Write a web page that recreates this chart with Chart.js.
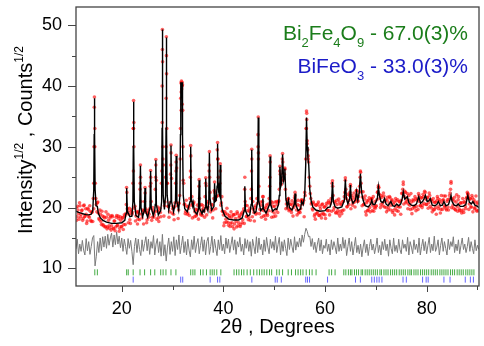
<!DOCTYPE html>
<html>
<head>
<meta charset="utf-8">
<script src="https://cdn.jsdelivr.net/npm/chart.js@4.4.1/dist/chart.umd.min.js"></script>
<style>
  html, body { margin: 0; padding: 0; background: #fff; }
  #wrap { width: 484px; height: 346px; }
</style>
</head>
<body>
<div id="wrap"><canvas id="xrd" width="484" height="346"></canvas></div>
<script>
/* ── Data ────────────────────────────────────────────────── */

// observed sqrt(counts), sampled every 0.2 deg starting at 11 deg
const obsStart = 11, obsStep = 0.2;
const obsGrid = [
  20.0,18.5,19.6,18.1,20.3, 18.9,19.6,18.2,20.4,18.6,
  18.9,17.8,19.7,18.4,19.4, 17.7,19.3,21.5,36.5,24.0,
  20.5,20.8,19.1,18.0,18.9, 17.2,18.6,17.0,18.3,16.9,
  18.4,16.8,17.9,16.6,18.6, 17.0,18.5,16.5,17.8,16.8,
  18.7,17.1,18.2,16.6,17.9, 16.9,18.3,17.2,18.6,19.0,
  22.5,19.4,18.9,18.0,19.3, 18.9,24.0,30.0,20.2,18.6,
  19.2,18.1,19.0,23.0,21.0, 18.3,19.4,19.5,22.4,19.2,
  18.0,19.1,18.9,23.5,21.0, 18.4,19.5,18.8,23.0,24.5,
  19.4,18.3,19.6,19.2,24.0, 46.0,27.0,20.3,25.0,45.0,
  24.0,20.2,19.3,25.5,24.8, 19.8,18.9,20.1,24.0,26.5,
  20.3,19.6,22.0,38.0,39.5, 36.0,24.0,20.6,19.4,20.2,
  19.1,19.9,21.5,28.5,21.8, 20.5,20.9,19.3,18.6,19.7,
  19.5,23.5,20.4,18.8,19.6, 20.3,19.4,21.8,23.6,19.8,
  20.1,27.0,22.5,19.7,20.4, 19.6,22.8,21.2,21.8,29.5,
  25.0,23.0,26.0,20.8,19.4, 18.8,17.5,19.0,17.6,18.9,
  17.1,18.7,17.4,18.4,16.9, 18.8,17.3,18.2,16.8,19.0,
  17.5,18.6,17.2,19.1,18.0, 19.8,23.0,20.4,18.6,19.5,
  18.4,19.9,21.5,28.0,21.0, 19.2,20.0,18.9,21.5,32.0,
  23.5,19.7,20.4,19.6,21.8, 19.5,18.7,20.0,19.0,20.6,
  21.5,27.5,21.0,19.4,20.2, 19.1,20.9,19.6,20.5,20.9,
  23.0,25.5,23.8,28.0,25.0, 25.5,23.0,20.6,20.0,21.5,
  19.7,20.6,19.2,20.4,20.0, 21.6,21.0,19.6,20.5,19.1,
  20.3,19.8,21.3,20.6,21.2, 22.5,28.0,35.5,29.5,27.5,
  23.5,21.5,20.8,19.6,20.6, 18.9,20.4,19.0,20.6,18.7,
  20.2,18.9,20.5,19.1,20.1, 18.8,20.3,19.6,20.8,19.5,
  20.6,21.5,24.0,22.0,20.0, 20.8,19.2,20.5,19.0,20.9,
  19.4,20.6,19.5,21.0,21.8, 24.5,21.5,20.2,21.1,22.0,
  23.5,21.3,20.4,21.6,20.9, 21.3,22.8,21.0,21.8,23.5,
  25.8,22.6,21.7,20.5,21.4, 19.3,20.8,19.5,21.2,20.0,
  20.8,21.5,20.4,19.4,21.0, 20.2,21.3,22.6,23.3,21.5,
  20.5,21.7,20.3,21.9,21.0, 20.0,21.2,19.6,20.8,21.6,
  20.4,21.3,19.5,20.9,19.8, 21.1,20.2,19.4,21.0,20.1,
  21.2,22.4,23.8,21.8,22.5, 21.0,22.3,20.6,21.2,19.7,
  20.9,19.8,21.1,20.0,21.4, 20.2,21.5,22.3,21.0,20.3,
  21.6,20.4,21.8,22.7,21.4, 20.5,21.6,20.8,22.0,21.2,
  19.9,21.0,19.6,20.8,20.0, 21.1,21.5,20.2,21.3,19.7,
  20.8,21.2,21.9,20.3,19.8, 21.0,20.1,21.4,22.4,24.0,
  21.5,20.4,21.1,19.7,20.9, 20.2,21.3,19.8,20.7,19.5,
  20.8,19.6,21.0,20.2,21.5, 22.5,21.8,20.6,21.4,20.1,
  21.6,20.9,19.8,20.9,19.6, 20.6,19.5
];

// second observed set, between the first: 11.1, 11.3, ... 90.1 deg
const obsStart2 = 11.1;
const obsGrid2 = [
  17.9,20.2,19.0,20.8,18.5, 19.5,17.9,20.3,18.5,19.8,
  17.4,19.9,18.6,20.3,17.9, 19.2,17.7,19.8,30.0,21.5,
  19.3,20.9,18.2,19.6,17.7, 19.4,17.2,18.5,16.8,19.3,
  16.5,18.9,17.0,18.3,16.3, 18.7,16.6,17.8,16.2,18.4,
  17.0,18.6,16.1,18.5,16.9, 18.3,16.4,18.8,17.2,20.5,
  19.8,17.5,19.9,17.4,19.6, 19.2,33.0,19.9,17.8,19.4,
  17.3,19.3,18.0,25.0,18.9, 19.6,17.3,21.0,19.8,17.5,
  19.5,18.4,19.8,25.0,17.9, 20.0,18.4,19.3,27.0,18.1,
  20.1,17.7,19.9,18.5,26.0, 28.0,18.6,20.9,30.0,24.0,
  20.2,18.4,20.8,29.0,19.1, 20.2,18.0,20.8,27.5,20.8,
  18.2,20.7,28.0,39.0,40.0, 24.5,20.5,19.0,21.2,18.9,
  20.2,18.7,25.0,20.4,18.3, 20.7,18.5,19.7,18.8,20.4,
  18.1,21.5,19.0,20.5,18.7, 19.9,18.4,24.0,18.8,21.0,
  20.7,25.0,19.3,20.5,18.3, 21.5,22.5,19.8,21.9,28.0,
  22.0,24.0,20.4,21.8,19.4, 17.0,19.3,18.1,19.9,17.6,
  18.4,16.9,19.3,17.5,18.8, 16.5,18.9,17.7,19.3,17.0,
  18.4,16.9,18.9,17.5,19.4, 17.4,21.0,18.5,20.3,18.0,
  19.4,17.9,23.0,18.5,19.7, 17.8,20.3,19.1,20.7,29.0,
  19.0,20.9,18.4,21.0,18.6, 19.9,18.1,20.4,18.7,19.5,
  23.5,20.5,18.4,20.8,18.5, 20.2,18.6,21.0,19.2,21.1,
  26.0,24.0,24.5,27.5,24.5, 26.3,19.8,21.3,21.0,19.5,
  20.5,19.6,21.1,18.6,20.7, 22.0,20.3,18.8,21.2,19.4,
  19.2,21.0,21.0,20.8,18.5, 22.0,33.0,30.5,28.0,25.0,
  22.3,20.6,19.8,20.9,18.6, 18.1,20.4,19.2,20.9,18.7,
  19.8,18.3,20.6,18.9,20.1, 18.2,20.7,19.5,21.1,18.8,
  20.9,19.4,23.5,19.6,21.0, 19.1,21.2,19.5,21.4,18.6,
  20.5,19.0,21.0,19.6,22.5, 23.0,20.1,22.2,20.5,22.5,
  19.8,22.0,20.8,22.4,20.1, 22.0,22.0,21.1,22.5,25.0,
  24.0,20.3,22.6,20.6,21.9, 18.8,21.1,19.6,21.6,19.3,
  21.4,19.5,21.8,20.0,19.9, 20.3,22.5,23.3,22.2,20.0,
  22.0,20.8,22.4,20.1,21.3, 19.3,21.7,20.0,21.8,19.6,
  21.1,19.2,20.6,18.8,21.5, 19.5,21.3,20.1,20.9,18.9,
  22.3,23.0,20.6,22.7,20.8, 21.4,19.8,22.0,20.4,22.3,
  19.0,21.3,20.2,21.8,19.5, 21.2,19.7,22.0,20.3,21.6,
  20.0,22.2,20.7,22.5,20.5, 21.7,19.9,22.4,20.2,21.3,
  19.3,21.5,19.7,20.9,18.9, 21.8,19.8,21.0,19.1,22.0,
  19.7,21.3,20.1,21.9,19.6, 21.3,19.6,22.0,23.0,20.0,
  21.3,19.9,21.7,19.6,22.1, 19.4,21.8,19.5,20.8,19.1,
  21.5,19.2,20.8,19.8,21.7, 22.3,19.7,21.5,20.1,22.0,
  19.3,21.3,20.0,21.9,19.4, 20.9
];

// extra observed points on the peak flanks and tops [2theta, value]
const obsPeaks = [
  [14.5,24],[14.55,30],[14.63,38.2],[14.7,33],
  [20.95,23.3],[22.3,26],[22.28,33],[22.33,37.6],[22.38,34],
  [23.63,24],[23.68,27],[24.58,23.3],[25.68,26.1],[25.72,24],[26.66,25],[26.71,27.9],
  [27.95,40],[27.97,34],[28.0,49.3],[28.04,44],[28.06,30],
  [28.74,38],[28.78,48.1],[28.82,42],[28.86,33],
  [29.65,27],[29.69,30.3],[30.68,26],[30.72,28.6],
  [31.55,33],[31.65,40.5],[31.7,36],[31.75,40.8],[31.85,40.6],[31.9,37],[31.95,40.2],[32.05,30],
  [33.53,26],[33.57,30.2],[35.23,24.6],[36.53,24.9],[37.2,26],[37.25,29.2],[38.27,24.2],
  [38.86,30.7],[38.9,28],[39.38,27.2],
  [44.22,25],[45.54,26],[45.58,29.6],[46.82,30],[46.86,34.9],[46.9,28],[47.77,21.8],
  [49.15,25],[49.19,28.5],[51.12,26.8],[51.65,28.9],[52.1,26.5],[52.8,21.4],[54.1,22.5],[55.4,21.2],
  [56.32,33],[56.36,35.9],[56.4,34.5],[56.5,31],[56.7,28.5],
  [61.47,24.4],[64.0,24.9],[65.0,23.8],[66.2,22.8],[66.96,26],[69.2,21.4],[70.5,23.6],
  [75.4,24.2],[84.8,24.3],[88.1,22.2]
];

// calculated profile [2theta, value]
const calc = [
  [11.0,19.4],[11.5,19.2],[12.0,19.1],[12.5,18.95],[13.0,18.85],[13.5,18.8],[14.0,18.9],[14.3,19.5],
  [14.5,23],[14.58,32],[14.63,38.0],[14.68,32],[14.76,23],[14.95,20.3],[15.2,20.2],[15.4,19.0],
  [15.8,18.3],[16.3,17.9],[17,17.6],[18,17.4],[19,17.4],[20,17.5],[20.6,17.9],[20.85,19],
  [20.97,23.2],[21.1,19.5],[21.28,19.1],[21.6,18.5],[22.0,18.6],[22.2,21],[22.28,30],[22.33,37.4],
  [22.38,30],[22.47,21],[22.8,18.7],[23.3,18.4],[23.55,20],[23.68,26.9],[23.8,20],[24.1,18.5],
  [24.45,19.5],[24.58,23.2],[24.7,19.4],[25.1,18.4],[25.55,20],[25.68,26.0],[25.8,20],[26.2,18.7],
  [26.5,19.6],[26.6,20.5],[26.71,27.8],[26.82,20.5],[27.2,18.8],[27.67,19.5],[27.85,21],[27.94,33],
  [28.0,49.3],[28.06,33],[28.16,22],[28.4,19.7],[28.62,22],[28.72,33],[28.78,48.0],[28.84,33],
  [28.94,22],[29.25,19.6],[29.57,21],[29.69,30.2],[29.81,21],[30.2,19.3],[30.58,21],[30.72,28.5],
  [30.85,21],[31.2,19.6],[31.45,22],[31.55,32],[31.62,40.6],[31.75,38],[31.88,40.6],[31.96,32],
  [32.1,22],[32.4,19.8],[32.9,19.3],[33.45,21],[33.57,30.0],[33.69,21.5],[33.95,20.3],[34.05,20.8],
  [34.3,19.4],[34.8,18.9],[35.1,19.8],[35.23,24.5],[35.36,19.8],[35.8,19.0],[36.0,19.6],[36.2,19.3],
  [36.42,20],[36.53,24.8],[36.65,20.3],[36.95,19.5],[37.13,21],[37.25,29.0],[37.37,21.5],[37.7,19.6],
  [38.15,20.2],[38.27,24.0],[38.4,21],[38.6,21.2],[38.76,23.5],[38.86,30.5],[38.96,24],[39.1,22.5],
  [39.28,22],[39.38,27.0],[39.5,21.5],[39.8,19.6],[40.3,18.6],[41,18.1],[42,17.95],[43,17.95],
  [43.7,18.3],[44.1,19.5],[44.22,23.5],[44.34,19.5],[44.8,18.6],[45.2,18.8],[45.46,20.5],[45.58,29.5],
  [45.7,20.5],[46.1,19.1],[46.4,19.3],[46.74,21],[46.86,34.8],[46.98,21],[47.35,19.5],[47.65,19.8],
  [47.77,21.5],[47.9,19.8],[48.4,19.1],[49.07,20.5],[49.19,28.4],[49.31,20.5],[49.7,19.4],[50.2,19.8],
  [50.5,19.7],[50.85,20.5],[51.0,22],[51.12,26.7],[51.3,23.5],[51.45,24],[51.65,28.75],[51.85,24.5],
  [52.0,25],[52.1,26.4],[52.3,21.5],[52.55,20.2],[52.8,21.2],[53.0,20],[53.5,19.6],[53.95,20.5],
  [54.1,22.3],[54.25,20.5],[54.7,19.5],[55.2,19.8],[55.4,21.0],[55.7,20.5],[56.0,22],[56.2,27],
  [56.36,34.8],[56.5,30],[56.65,28],[56.8,27],[57.0,23],[57.3,21],[57.6,20.1],[58.2,19.6],
  [59,19.4],[60,19.5],[60.5,20],[61.0,20.1],[61.3,21],[61.47,24.2],[61.64,21],[62.0,20.1],
  [62.5,19.9],[63.3,20.1],[63.8,21.2],[64.0,24.6],[64.2,21.5],[64.5,20.6],[64.85,21.5],[65.0,23.7],
  [65.15,21.5],[65.5,20.7],[66.0,21.3],[66.2,22.6],[66.45,21.2],[66.75,22.5],[66.96,25.6],[67.2,22.5],
  [67.5,21.2],[67.9,20.3],[68.5,20.1],[69.0,20.6],[69.2,21.2],[69.45,20.5],[69.8,20.5],[70.3,21.5],
  [70.5,23.4],[70.7,22],[71.0,21],[71.4,20.8],[71.7,21.5],[72.0,20.6],[72.4,20.3],[72.97,21.0],
  [73.3,20.3],[73.7,20.2],[74.1,20.6],[74.5,20.3],[74.9,20.6],[75.2,21.5],[75.4,22.6],[75.7,21.4],
  [76.2,21.8],[76.5,20.8],[77.0,20.4],[77.5,20.3],[78.0,20.6],[78.45,21.8],[78.8,20.7],[79.2,21],
  [79.5,21.5],[79.75,22.0],[80.1,21],[80.4,21.1],[80.7,21.5],[81.1,20.4],[81.6,20.3],[82.0,20.5],
  [82.3,21.0],[82.7,20.3],[83.1,20.4],[83.4,21.0],[83.8,20.3],[84.3,20.5],[84.6,21.3],[84.8,22.0],
  [85.0,21.0],[85.4,20.4],[85.9,20.3],[86.2,20.6],[86.6,20.2],[87.2,20.2],[87.7,20.5],[88.1,22.0],
  [88.4,20.9],[88.8,20.6],[89.1,21.0],[89.5,20.4],[90.0,20.2],[90.3,20.0]
];

// obs - calc, shifted down, sampled every 0.25 deg from 11 deg
const diffStart = 11, diffStep = 0.25;
const diffVals = [
  13.2,14.8,12.4,14.0, 12.8,14.6,13.0,12.2, 14.9,12.9,14.4,12.3, 13.6,15.0,15.4,10.4,
  12.0,14.4,12.6,15.0, 12.9,15.2,13.5,15.3, 13.3,15.6,13.8,15.0, 15.8,13.5,15.5,13.9,
  16.0,14.0,15.3,13.4, 15.0,12.8,14.8,13.6, 12.3,14.9,13.3,14.6, 12.8,10.6,13.6,15.0,
  12.6,14.8,13.1,12.1, 14.7,12.8,14.1,15.2, 12.9,14.8,12.3,14.4, 13.3,15.4,12.2,14.0,
  14.9,12.6,14.4,12.0, 15.6,12.1,13.9,11.2, 13.5,15.0,12.3,14.4, 12.8,15.2,12.1,14.7,
  13.1,15.5,12.4,13.8, 15.3,12.6,14.4,12.2, 14.8,13.0,11.9,14.7, 13.1,15.3,12.6,14.0,
  14.9,12.4,13.8,15.2, 12.8,14.7,12.2,14.4, 15.1,12.3,13.6,15.3, 12.6,14.8,13.3,12.1,
  14.7,13.1,15.4,12.9, 14.0,12.4,15.0,13.3, 14.8,12.6,13.9,15.2, 13.0,14.7,12.3,14.4,
  13.5,15.1,12.8,14.0, 12.2,14.9,13.3,14.7, 12.8,14.4,12.0,14.8, 13.6,12.4,15.2,12.6,
  15.0,13.1,14.0,12.2, 14.7,12.8,15.1,13.5, 12.4,14.8,13.3,14.4, 13.0,15.3,12.6,13.9,
  15.1,12.2,14.4,12.8, 14.7,13.3,12.1,15.0, 13.1,14.8,13.6,12.6, 15.2,13.0,14.4,13.5,
  15.0,13.6,15.5,14.3, 15.6,16.6,16.1,15.2, 15.3,13.6,14.9,13.1, 14.3,12.6,14.0,15.0,
  12.9,14.7,12.4,13.8, 13.3,14.8,12.8,14.0, 12.2,14.7,13.1,14.4, 13.5,12.4,15.0,12.8,
  14.0,12.9,15.1,13.3, 14.7,12.1,13.6,15.0, 12.8,14.4,12.2,13.6, 15.1,12.6,13.8,12.4,
  14.0,11.9,13.5,14.7, 12.6,14.0,12.1,13.6, 14.8,13.0,14.0,12.4, 13.5,15.0,12.6,13.8,
  12.2,14.4,13.1,14.8, 12.9,14.0,12.0,14.7, 13.3,12.4,15.0,12.8, 13.8,12.6,14.8,13.1,
  12.4,14.7,13.3,14.0, 12.8,15.1,12.2,14.4, 13.5,12.4,14.7,13.1, 14.0,12.6,15.0,12.2,
  13.6,14.8,12.9,14.4, 12.4,13.8,15.1,12.6, 14.0,12.9,15.3,12.8, 13.5,14.7,12.2,13.8,
  15.0,12.8,14.4,13.3, 12.2,14.8,13.1,14.4, 13.6,15.2,12.6,14.0, 12.9,14.7,12.4,13.8,
  15.0,13.1,14.0,12.6, 13.6,15.1,12.8,14.4, 13.3,12.4,14.7,12.9, 13.8,13.1
];

// Bragg positions
const bi2fe4o9Ticks = [
  14.7,15.2,20.97,21.28,22.25,23.6,24.5,25.68,26.5,27.67,28.14,28.7,29.69,30.66,
  33.57,34.0,34.4,35.5,36.0,36.67,37.4,37.8,38.2,38.7,39.5,42.1,42.6,43.06,43.57,
  44.03,44.67,45.3,45.97,46.6,47.1,47.58,48.03,48.55,49.07,49.5,50.5,51.0,51.65,
  52.75,53.4,54.2,54.7,55.2,55.66,56.3,56.94,57.46,58.24,60.8,61.3,61.98,
  63.7,64.1,64.6,65.0,65.3,65.8,66.2,66.6,67.1,67.4,67.9,68.3,68.7,69.1,69.5,69.9,
  70.3,70.8,71.1,71.6,72.0,72.4,72.9,73.3,73.7,74.1,74.6,75.0,75.4,75.8,76.3,76.7,
  77.0,77.5,77.9,78.3,78.8,79.2,79.6,80.0,80.4,80.9,81.3,81.7,82.1,82.6,83.0,83.4,
  83.8,84.2,84.7,85.1,85.5,86.0,86.4,86.8,87.2,87.7,88.1,88.5,88.9,89.3
];
const bifeo3Ticks = [
  22.25,31.6,32.0,37.4,38.86,39.3,45.6,50.2,50.6,51.4,56.2,56.55,56.95,60.5,66.0,66.96,
  69.2,69.7,70.2,70.65,71.2,75.35,76.0,79.2,79.9,80.3,83.4,84.6,87.6,88.6,89.2
];
const tickRowY = [9.35, 8.15];

const xTicks = [20, 40, 60, 80];
const yTicks = [10, 20, 30, 40, 50];

/* ── Helpers ─────────────────────────────────────────────── */

const FONT = '"Liberation Sans", Arial, sans-serif';

const pts = arr => arr.map(p => ({ x: p[0], y: p[1] }));
const gridPts = (vals, start, step) => vals.map((v, i) => ({ x: start + i * step, y: v }));

// draw text with sub/superscript parts: [text, size, dy]
function drawRich(ctx, parts, x, y, align) {
  let w = 0;
  parts.forEach(p => { ctx.font = p[1] + 'px ' + FONT; w += ctx.measureText(p[0]).width; });
  let cx = align === 'right' ? x - w : align === 'center' ? x - w / 2 : x;
  parts.forEach(p => {
    ctx.font = p[1] + 'px ' + FONT;
    ctx.fillText(p[0], cx, y + p[2]);
    cx += ctx.measureText(p[0]).width;
  });
}

const framePlugin = {
  id: 'frame',
  afterDraw(chart) {
    const { ctx, chartArea: a, scales: { x, y } } = chart;
    ctx.save();
    ctx.strokeStyle = '#444';
    ctx.lineWidth = 1.3;
    ctx.strokeRect(a.left, a.top, a.right - a.left, a.bottom - a.top);

    // tick marks, outward
    ctx.lineWidth = 1;
    ctx.beginPath();
    for (let v = 20; v <= 90; v += 10) {
      const px = Math.round(x.getPixelForValue(v)) + 0.5;
      const len = v % 20 === 0 ? 6 : 4;
      ctx.moveTo(px, a.bottom); ctx.lineTo(px, a.bottom + len);
    }
    for (let v = 10; v <= 50; v += 5) {
      const py = Math.round(y.getPixelForValue(v)) + 0.5;
      const len = v % 10 === 0 ? 8 : 4;
      ctx.moveTo(a.left, py); ctx.lineTo(a.left - len, py);
    }
    ctx.stroke();

    ctx.fillStyle = '#000';
    ctx.textBaseline = 'alphabetic';
    // x title
    drawRich(ctx, [['2\u03b8 , Degrees', 20, 0]], (a.left + a.right) / 2, 333, 'center');
    // y title
    ctx.save();
    ctx.translate(32, 140);
    ctx.rotate(-Math.PI / 2);
    drawRich(ctx, [['Intensity', 20, 0], ['1/2', 12, -9], [' , Counts', 20, 0], ['1/2', 12, -9]], 0, 0, 'center');
    ctx.restore();

    // phase fractions
    ctx.fillStyle = '#1b7d1b';
    drawRich(ctx, [['Bi', 21, 0], ['2', 13, 7], ['Fe', 21, 0], ['4', 13, 7], ['O', 21, 0], ['9', 13, 7],
      [' - 67.0(3)%', 21, 0]], 468, 40, 'right');
    ctx.fillStyle = '#1c1cc8';
    drawRich(ctx, [['BiFeO', 21, 0], ['3', 13, 7], [' - 33.0(3)%', 21, 0]], 468, 73, 'right');
    ctx.restore();
  }
};

/* ── Chart ───────────────────────────────────────────────── */

const obsPoints = gridPts(obsGrid, obsStart, obsStep)
  .concat(gridPts(obsGrid2, obsStart2, obsStep))
  .concat(pts(obsPeaks));

new Chart(document.getElementById('xrd'), {
  type: 'scatter',
  data: {
    datasets: [
      {
        label: 'calc', data: pts(calc), showLine: true, order: 0,
        borderColor: '#000', borderWidth: 1.4, pointRadius: 0, tension: 0,
      },
      {
        label: 'obs', data: obsPoints, order: 1,
        backgroundColor: 'rgba(255,0,0,0.62)', borderWidth: 0, pointRadius: 1.8,
      },
      {
        label: 'diff', data: gridPts(diffVals, diffStart, diffStep), showLine: true, order: 2,
        borderColor: '#7a7a7a', borderWidth: 1, pointRadius: 0,
      },
      {
        label: 'Bi2Fe4O9', data: bi2fe4o9Ticks.map(v => ({ x: v, y: tickRowY[0] })), order: 3,
        pointStyle: 'line', rotation: 90, pointRadius: 3, borderColor: 'rgba(20,150,20,0.8)', borderWidth: 1,
      },
      {
        label: 'BiFeO3', data: bifeo3Ticks.map(v => ({ x: v, y: tickRowY[1] })), order: 3,
        pointStyle: 'line', rotation: 90, pointRadius: 3, borderColor: 'rgba(60,60,255,0.8)', borderWidth: 1,
      },
    ],
  },
  options: {
    responsive: false,
    animation: false,
    devicePixelRatio: 1,
    layout: { padding: { top: 7, right: 0, left: 0, bottom: 0 } },
    plugins: { legend: { display: false }, tooltip: { enabled: false } },
    scales: {
      x: {
        type: 'linear', min: 11, max: 90.3,
        grid: { display: false, drawTicks: false }, border: { display: false },
        afterBuildTicks: s => { s.ticks = xTicks.map(v => ({ value: v })); },
        afterFit: s => { s.height = 60; s.paddingLeft = 0; s.paddingRight = 0; },
        ticks: { color: '#000', padding: 12, font: { family: FONT, size: 18 } },
      },
      y: {
        min: 7.1, max: 53,
        grid: { display: false, drawTicks: false }, border: { display: false },
        afterBuildTicks: s => { s.ticks = yTicks.map(v => ({ value: v })); },
        afterFit: s => { s.width = 76; s.paddingTop = 0; s.paddingBottom = 0; },
        ticks: { color: '#000', padding: 14, font: { family: FONT, size: 18 } },
      },
    },
  },
  plugins: [framePlugin],
});
</script>
</body>
</html>
